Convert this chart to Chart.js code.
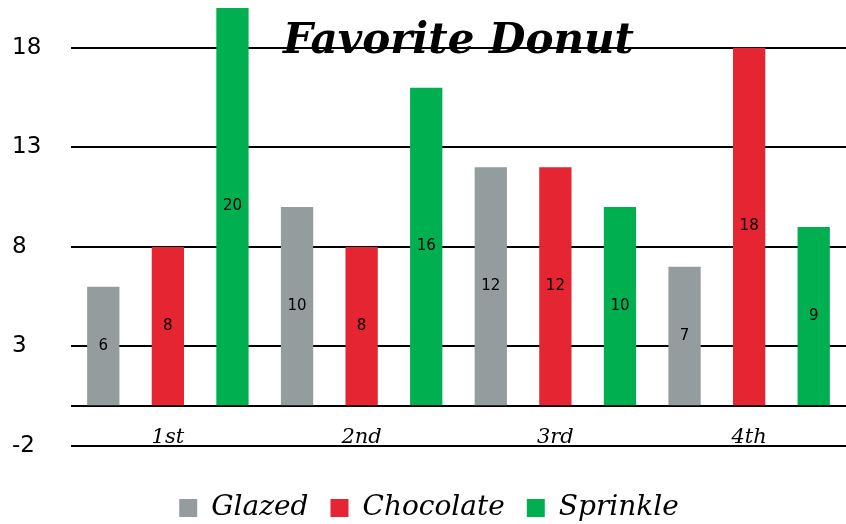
<!DOCTYPE html>
<html>
<head>
<meta charset="utf-8">
<script src="https://cdn.jsdelivr.net/npm/chart.js@4.4.0/dist/chart.umd.min.js"></script>
<style>
  html, body { margin: 0; padding: 0; background: #fff; }
  #wrap { width: 846px; height: 524px; position: relative; }
</style>
</head>
<body>
<div id="wrap"><canvas id="donut"></canvas></div>
<script>
var categories = ['1st', '2nd', '3rd', '4th'];
var glazed = [6, 10, 12, 7];
var chocolate = [8, 8, 12, 18];
var sprinkle = [20, 16, 10, 9];
var yTicks = [-2, 0, 3, 8, 13, 18];

var scriptFont = "'DejaVu Serif', serif";

// values in the middle of each bar
var barValues = {
  id: 'barValues',
  afterDatasetsDraw: function(chart){
    var ctx = chart.ctx;
    ctx.save();
    ctx.fillStyle = '#000';
    ctx.font = "15px 'DejaVu Sans', sans-serif";
    ctx.textAlign = 'center';
    ctx.textBaseline = 'middle';
    chart.data.datasets.forEach(function(ds, i){
      chart.getDatasetMeta(i).data.forEach(function(bar, j){
        var mid = (bar.y + bar.base) / 2;
        ctx.fillText(ds.data[j], bar.x, mid);
      });
    });
    ctx.restore();
  }
};

// title sits over the plot
var donutTitle = {
  id: 'donutTitle',
  afterDraw: function(chart){
    var ctx = chart.ctx;
    var area = chart.chartArea;
    ctx.save();
    ctx.fillStyle = '#000';
    ctx.font = "italic bold 42px " + scriptFont;
    ctx.textAlign = 'center';
    ctx.textBaseline = 'middle';
    ctx.fillText('Favorite Donut', (area.left + area.right) / 2, 42);
    ctx.restore();
  }
};

var ctx = document.getElementById('donut').getContext('2d');
var myChart = new Chart(ctx, {
  type: 'bar',
  plugins: [barValues, donutTitle],
  data: {
    labels: categories,
    datasets: [
      { label: 'Glazed', data: glazed, backgroundColor: '#959c9e' },
      { label: 'Chocolate', data: chocolate, backgroundColor: '#e52532' },
      { label: 'Sprinkle', data: sprinkle, backgroundColor: '#00b050' }
    ]
  },
  options: {
    responsive: true,
    maintainAspectRatio: false,
    animation: false,
    categoryPercentage: 1,
    barPercentage: 0.5,
    layout: { padding: { top: 8, right: 0, left: 12, bottom: -8 } },
    scales: {
      x: {
        grid: { display: false, drawTicks: false },
        border: { display: false },
        ticks: {
          color: '#000',
          mirror: true,
          padding: -4,
          font: { family: scriptFont, style: 'italic', size: 21 }
        },
        afterFit: function(scale){ scale.height = 26; }
      },
      y: {
        min: -2,
        max: 20,
        border: { display: false },
        grid: { color: '#000', lineWidth: 2, drawTicks: false },
        afterBuildTicks: function(scale){
          scale.ticks = yTicks.map(function(v){ return { value: v }; });
        },
        afterFit: function(scale){
          scale.width = 59;
          scale.paddingTop = 0;
          scale.paddingBottom = 0;
        },
        ticks: {
          autoSkip: false,
          color: '#000',
          crossAlign: 'far',
          padding: 10,
          font: { family: "'DejaVu Sans', sans-serif", size: 23 },
          callback: function(v){ return v === 0 ? '' : v; }
        }
      }
    },
    plugins: {
      title: { display: false },
      tooltip: { enabled: false },
      legend: {
        position: 'bottom',
        labels: {
          color: '#000',
          boxWidth: 18,
          boxHeight: 18,
          padding: 22,
          font: { family: scriptFont, style: 'italic', size: 28 }
        }
      }
    }
  }
});
</script>
</body>
</html>
